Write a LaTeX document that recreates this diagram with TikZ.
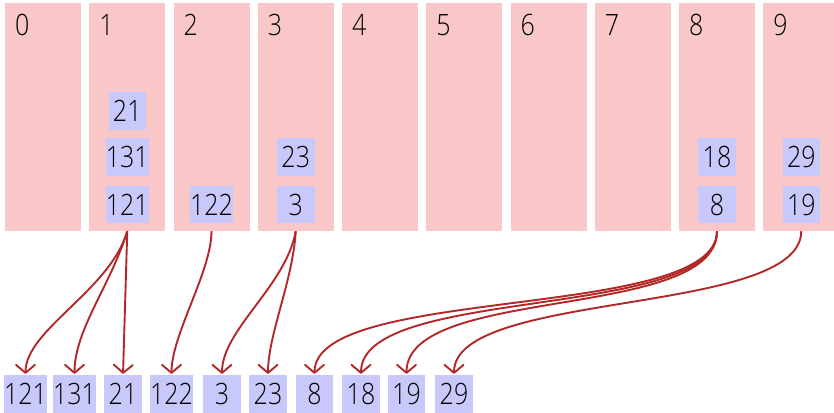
\documentclass[tikz,border=0pt]{standalone}
\usepackage{fontspec}
\setmainfont{Open Sans Light}[FakeStretch=0.85]
\usetikzlibrary{arrows.meta}
\definecolor{bucketpink}{RGB}{249,199,200}
\definecolor{itemblue}{RGB}{200,200,250}
\definecolor{linkred}{RGB}{178,40,40}
\newcommand{\digitsfont}{\fontsize{29.4}{30}\selectfont}
\begin{document}
\begin{tikzpicture}[x=1pt,y=-1pt,
  bucket/.style={fill=bucketpink, minimum width=76pt, minimum height=228pt, inner sep=0pt},
  blabel/.style={anchor=base west, inner sep=0pt, font=\digitsfont, text=black},
  item/.style={fill=itemblue, minimum width=37.5pt, minimum height=37.5pt, inner xsep=0pt, inner ysep=0pt, text height=21pt, text depth=0pt, font=\digitsfont, text=black},
  link/.style={draw=linkred, line width=1.9pt, -{Straight Barb[length=8pt,width=19pt,line cap=round,line join=round]}, shorten >=1pt}]
\useasboundingbox (0,0) rectangle (834,412);
\clip (0,0) rectangle (834,412);
% buckets
\foreach \i in {0,...,9}{
  \node[bucket] (b\i) at ({43+84.25*\i},117) {};
  \node[blabel] (l\i) at ({15+84.25*\i},36) {\i};
}
% items in buckets
\node[item] (i21)  at (127.25,111) {21};
\node[item] (i131) at (127.25,157) {131};
\node[item] (i121) at (127.25,204.5) {121};
\node[item] (i122) at (211.5,204.5) {122};
\node[item] (i23)  at (295.75,157) {23};
\node[item] (i3)   at (295.75,204.5) {3};
\node[item] (i18)  at (717,157) {18};
\node[item] (i8)   at (717,204.5) {8};
\node[item] (i29)  at (801.25,157) {29};
\node[item] (i19)  at (801.25,204.5) {19};
% output row
\node[item] (o121) at (25.5,393.75) {121};
\node[item] (o131) at (74.5,393.75) {131};
\node[item] (o21)  at (123,393.75) {21};
\node[item] (o122) at (171.5,393.75) {122};
\node[item] (o3)   at (222,393.75) {3};
\node[item] (o23)  at (268,393.75) {23};
\node[item] (o8)   at (314.5,393.75) {8};
\node[item] (o18)  at (361,393.75) {18};
\node[item] (o19)  at (406.5,393.75) {19};
\node[item] (o29)  at (454,393.75) {29};
% links
\draw[link] (b1.south) .. controls +(-17,59) and +(0,-45) .. (o121.north);
\draw[link] (b1.south) .. controls +(-17,55) and +(0,-45) .. (o131.north);
\draw[link] (b1.south) -- (o21.north);
\draw[link] (b2.south) .. controls +(0,40) and +(0,-40) .. (o122.north);
\draw[link] (b3.south) .. controls +(-10,55) and +(0,-45) .. (o3.north);
\draw[link] (b3.south) .. controls +(-3,50) and +(0,-40) .. (o23.north);
\draw[link] (b8.south) .. controls +(0,90) and +(0,-90) .. (o8.north);
\draw[link] (b8.south) .. controls +(0,90) and +(0,-90) .. (o18.north);
\draw[link] (b8.south) .. controls +(0,90) and +(0,-90) .. (o19.north);
\draw[link] (b9.south) .. controls +(0,85) and +(0,-85) .. (o29.north);
\end{tikzpicture}
\end{document}
